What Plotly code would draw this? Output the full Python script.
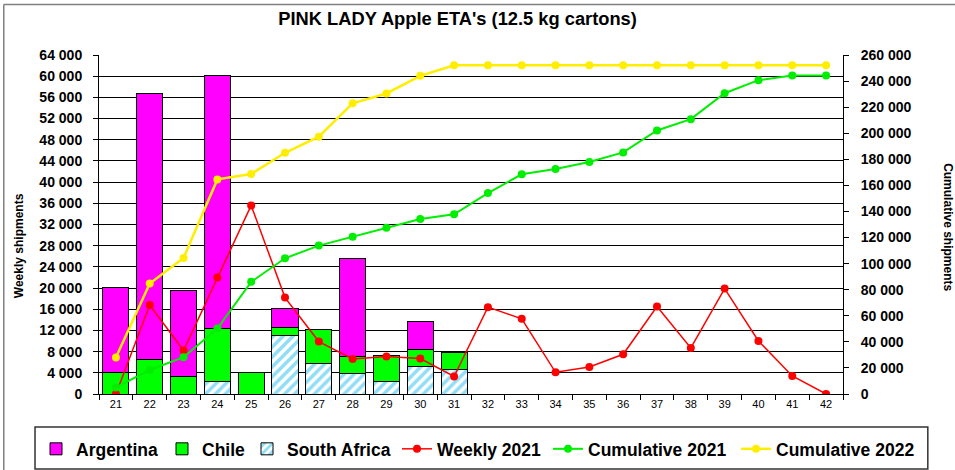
import plotly.graph_objects as go

weeks = [str(w) for w in range(21, 43)]
bar_weeks = weeks[:11]

# weekly shipments by origin (cartons)
argentina = [16100, 50200, 16200, 47800, 0, 3500, 0, 18600, 0, 5200, 0]
chile = [4000, 6500, 3300, 10000, 4000, 1600, 6500, 3200, 4950, 3200, 3300]
south_africa = [0, 0, 0, 2400, 0, 11000, 5700, 3800, 2400, 5200, 4600]

weekly_2021 = [0, 16800, 8200, 22000, 35600, 18200, 9900, 6600, 7100, 6700, 3300,
               16400, 14200, 4100, 5100, 7500, 16500, 8700, 19900, 10000, 3400, 0]
cumul_2021 = [5000, 18400, 28200, 50200, 86000, 104100, 113800, 120700, 127600, 134200, 137800,
              154100, 168500, 172500, 177900, 185300, 202100, 210800, 230700, 240700, 244200, 244200]
cumul_2022 = [28000, 84700, 104400, 164600, 168700, 185000, 197300, 223000, 230500, 244000, 252100,
              252100, 252100, 252100, 252100, 252100, 252100, 252100, 252100, 252100, 252100, 252100]

left_ticks = list(range(0, 64001, 4000))
right_ticks = list(range(0, 260001, 20000))

def fmt(v):
    return "{:,}".format(v).replace(",", " ")

FONT = "Arial, Liberation Sans, sans-serif"

fig = go.Figure()
fig.add_trace(go.Bar(x=bar_weeks, y=south_africa, name="South Africa", legend="legend3",
                     marker=dict(color="white", line=dict(color="black", width=1),
                                 pattern=dict(shape="/", fgcolor="#22BBEE", bgcolor="white",
                                              size=7, solidity=0.5))))
fig.add_trace(go.Bar(x=bar_weeks, y=chile, name="Chile", legend="legend2",
                     marker=dict(color="#00FF00", line=dict(color="black", width=1))))
fig.add_trace(go.Bar(x=bar_weeks, y=argentina, name="Argentina", legend="legend",
                     marker=dict(color="#FF00FF", line=dict(color="black", width=1))))
fig.add_trace(go.Scatter(x=weeks, y=weekly_2021, name="Weekly 2021", mode="lines+markers",
                         legend="legend4",
                         line=dict(color="#FF0000", width=1.5), marker=dict(size=8, color="#FF0000")))
fig.add_trace(go.Scatter(x=weeks, y=cumul_2021, name="Cumulative 2021", mode="lines+markers",
                         yaxis="y2", legend="legend5", line=dict(color="#00EE00", width=2),
                         marker=dict(size=8, color="#00EE00")))
fig.add_trace(go.Scatter(x=weeks, y=cumul_2022, name="Cumulative 2022", mode="lines+markers",
                         yaxis="y2", legend="legend6", line=dict(color="#FFEE00", width=2.5),
                         marker=dict(size=8, color="#FFEE00")))

# one legend per entry so each sits where it does in the original
def leg(px):
    return dict(orientation="h", x=(px - 99) / 744, y=-0.109, xanchor="left", yanchor="top",
                font=dict(size=17.5, weight="bold"), bgcolor="rgba(0,0,0,0)",
                borderwidth=0, itemwidth=30)

fig.update_layout(
    width=955, height=470,
    margin=dict(l=99, r=112, t=55, b=76, autoexpand=False),
    paper_bgcolor="white", plot_bgcolor="white",
    barmode="stack", bargap=0.23, showlegend=True,
    font=dict(family=FONT, color="black"),
    title=dict(text="<b>PINK LADY Apple ETA's (12.5 kg cartons)</b>",
               font=dict(size=18.3), x=0.482, xref="paper", xanchor="center",
               y=0.96, yref="container", yanchor="middle"),
    xaxis=dict(type="category", categoryorder="array", categoryarray=weeks,
               range=[-0.5, 21.5], showgrid=False, showline=True, linecolor="black",
               linewidth=1, ticks="outside", tickson="boundaries", ticklen=5,
               tickcolor="black", tickfont=dict(size=11)),
    yaxis=dict(range=[0, 64000], tickvals=left_ticks, ticktext=[fmt(v) for v in left_ticks],
               showgrid=True, gridcolor="black", gridwidth=1, showline=True,
               linecolor="black", linewidth=1, ticks="outside", ticklen=5,
               tickcolor="black", tickfont=dict(size=14, weight="bold"),
               ticklabelstandoff=8, zeroline=False),
    yaxis2=dict(range=[0, 260000], overlaying="y", side="right", tickvals=right_ticks,
                ticktext=[fmt(v) for v in right_ticks], showgrid=False, showline=True,
                linecolor="black", linewidth=1, ticks="outside", ticklen=5,
                tickcolor="black", tickfont=dict(size=14, weight="bold"),
                ticklabelstandoff=9, zeroline=False),
    legend=leg(36),
    legend2=leg(162),
    legend3=leg(247),
    legend4=leg(397),
    legend5=leg(548),
    legend6=leg(736),
    annotations=[
        dict(text="<b>Weekly shipments</b>", x=-0.108, y=0.438, xref="paper", yref="paper",
             xanchor="center", yanchor="middle",
             textangle=-90, showarrow=False, font=dict(size=12)),
        dict(text="<b>Cumulative shipments</b>", x=1.1417, y=0.491, xref="paper", yref="paper",
             xanchor="center", yanchor="middle",
             textangle=90, showarrow=False, font=dict(size=12)),
    ],
    shapes=[
        # legend frame
        dict(type="rect", xref="paper", yref="paper", x0=-0.086, x1=1.114,
             y0=-0.221, y1=-0.097, line=dict(color="#333333", width=1.5)),
        # outer chart frame (left and top)
        dict(type="line", xref="paper", yref="paper", x0=-0.128, x1=-0.128,
             y0=-0.25, y1=1.149, line=dict(color="#808080", width=1.5)),
        dict(type="line", xref="paper", yref="paper", x0=-0.128, x1=1.2,
             y0=1.149, y1=1.149, line=dict(color="#808080", width=1.5)),
    ],
)

# page body has a default 8px margin; drop it so the chart sits at the window origin
fig.write_html("out.html", config={"displayModeBar": False},
               post_script="document.body.style.margin='0';")
